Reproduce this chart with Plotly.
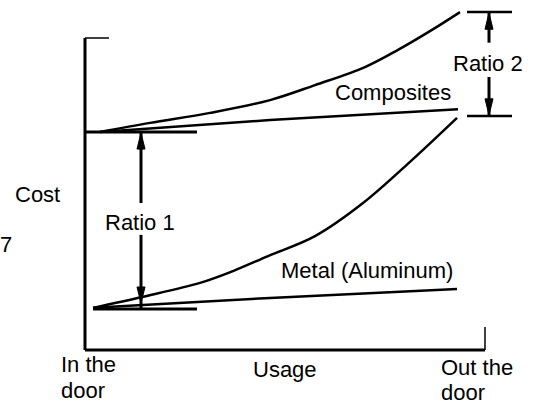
import plotly.graph_objects as go

# ---- data (usage 0..10 = "In the door".."Out the door", cost 0..10) ----
comp_upper_usage = [0.375, 1.625, 3.125, 4.625, 5.75, 7.0, 7.825, 8.675, 9.375]
comp_upper_cost = [6.99, 7.28, 7.60, 8.01, 8.49, 9.07, 9.62, 10.26, 10.83]

comp_lower_usage = [0.375, 4.625, 9.325]
comp_lower_cost = [6.99, 7.37, 7.72]

metal_upper_usage = [0.2, 1.425, 2.875, 3.7, 4.575, 5.75, 6.95, 8.125, 9.3]
metal_upper_cost = [1.35, 1.70, 2.15, 2.53, 3.01, 3.65, 4.71, 6.03, 7.44]

metal_lower_usage = [0.2, 4.625, 9.3]
metal_lower_cost = [1.35, 1.67, 1.955]

comp_base_usage = [0.0, 2.8]
comp_base_cost = [6.99, 6.99]
metal_base_usage = [0.2, 2.8]
metal_base_cost = [1.31, 1.31]

ratio1_usage = 1.4
ratio1_top, ratio1_bottom = 6.96, 1.50
ratio1_gap = (4.71, 3.69)

ratio2_usage = 10.1
ratio2_top, ratio2_bottom = 10.8, 7.53
ratio2_gap = (9.85, 8.75)
ratio2_bracket_usage = [9.55, 10.675]
ratio2_bracket_top = 10.83
ratio2_bracket_bottom = 7.5

x_min, x_max = 0.0, 10.0
y_min, y_max = 0.0, 10.0

HEAD_LEN = 0.52     # arrowhead length, cost units
HEAD_HALF = 0.1     # arrowhead half-width, usage units

FONT = dict(family="Liberation Sans, Arial, Helvetica, sans-serif", size=22, color="black")
BLACK = "black"

fig = go.Figure()


def line(xs, ys, width=2.5, smooth=True):
    fig.add_trace(go.Scatter(x=xs, y=ys, mode="lines",
                             line=dict(color=BLACK, width=width,
                                       shape="spline" if smooth else "linear",
                                       smoothing=1.0),
                             hoverinfo="skip", showlegend=False))


# axes frame
line([x_min, x_min], [y_min, y_max], 3, False)
line([x_min, 0.6], [y_max, y_max], 1.5, False)
line([x_min, x_max], [y_min, y_min], 3, False)
line([x_max, x_max], [y_min, 0.74], 1.5, False)

# curves
line(comp_upper_usage, comp_upper_cost, 2.5)
line(comp_lower_usage, comp_lower_cost, 2.5)
line(metal_upper_usage, metal_upper_cost, 2.5)
line(metal_lower_usage, metal_lower_cost, 2.5)
line(comp_base_usage, comp_base_cost, 3, False)
line(metal_base_usage, metal_base_cost, 3, False)

# ratio 2 brackets
line(ratio2_bracket_usage, [ratio2_bracket_top] * 2, 2.5, False)
line(ratio2_bracket_usage, [ratio2_bracket_bottom] * 2, 2.5, False)

# arrow shafts (with gaps for the labels)
line([ratio1_usage, ratio1_usage], [ratio1_top, ratio1_gap[0]], 3, False)
line([ratio1_usage, ratio1_usage], [ratio1_gap[1], metal_base_cost[0]], 3, False)
line([ratio2_usage, ratio2_usage], [ratio2_top, ratio2_gap[0]], 3, False)
line([ratio2_usage, ratio2_usage], [ratio2_gap[1], ratio2_bottom], 3, False)


def head(xv, tip, direction):
    base = tip - direction * HEAD_LEN
    fig.add_trace(go.Scatter(x=[xv - HEAD_HALF, xv, xv + HEAD_HALF, xv - HEAD_HALF],
                             y=[base, tip, base, base], mode="lines", fill="toself",
                             fillcolor=BLACK, line=dict(color=BLACK, width=1),
                             hoverinfo="skip", showlegend=False))


head(ratio1_usage, ratio1_top, 1)
head(ratio1_usage, ratio1_bottom, -1)
head(ratio2_usage, ratio2_top, 1)
head(ratio2_usage, ratio2_bottom, -1)


def label(text, xv, yv, xanchor="center"):
    fig.add_annotation(x=xv, y=yv, xref="x", yref="y", text=text, showarrow=False,
                       font=FONT, xanchor=xanchor, yanchor="middle", borderpad=0,
                       align=xanchor if xanchor != "center" else "center")


label("Ratio 1", 1.375, 4.10)
label("Ratio 2", 10.075, 9.17)
label("Composites", 7.7, 8.24)
label("Metal (Aluminum)", 7.05, 2.56)
label("Cost", -1.2, 4.97)
label("7", -1.975, 3.37)
label("In the", -0.625, -0.48, xanchor="left")
label("door", -0.625, -1.29, xanchor="left")
label("Usage", 5.0, -0.64)
label("Out the", 8.875, -0.545, xanchor="left")
label("door", 8.875, -1.355, xanchor="left")

fig.update_layout(
    width=535, height=404, autosize=False,
    margin=dict(l=0, r=0, t=0, b=0, pad=0),
    paper_bgcolor="white", plot_bgcolor="white",
    xaxis=dict(range=[-2.125, 11.25], visible=False, fixedrange=True),
    yaxis=dict(range=[-1.731, 11.218], visible=False, fixedrange=True),
    showlegend=False,
)

fig.write_html("out.html", config={"displayModeBar": False},
               post_script="document.body.style.margin='0';")
